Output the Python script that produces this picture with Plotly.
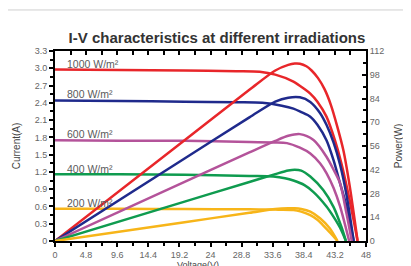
import plotly.graph_objects as go

# ---- data ----
x_ticks = [0, 4.8, 9.6, 14.4, 19.2, 24, 28.8, 33.6, 38.4, 43.2, 48]
x_ticklabels = ["0", "4.8", "9.6", "14.4", "19.2", "24", "28.8", "33.6", "38.4", "43.2", "48"]
y_ticks = [0, 0.3, 0.6, 0.9, 1.2, 1.5, 1.8, 2.1, 2.4, 2.7, 3.0, 3.3]
y_ticklabels = ["0", "0.3", "0.6", "0.9", "1.2", "1.5", "1.8", "2.1", "2.4", "2.7", "3.0", "3.3"]
p_ticks = [0, 14, 28, 42, 56, 70, 84, 98, 112]

labels = ["1000 W/m²", "800 W/m²", "600 W/m²", "400 W/m²", "200 W/m²"]
label_y = [3.07, 2.55, 1.85, 1.25, 0.665]

# I-V curves
iv_v_1000 = [0, 10, 20, 28, 31.6, 34, 36.8, 38.5, 39.4, 40.5, 41.9, 43.2, 44.2, 45.4, 46.7]
iv_i_1000 = [2.98, 2.97, 2.96, 2.95, 2.94, 2.89, 2.77, 2.64, 2.56, 2.42, 2.16, 1.75, 1.35, 0.75, 0]
iv_v_800 = [0, 10, 20, 28, 32, 35, 36.8, 38, 39.4, 40.5, 41.9, 43, 44, 45, 46.1]
iv_i_800 = [2.44, 2.43, 2.42, 2.41, 2.40, 2.35, 2.30, 2.24, 2.16, 2.02, 1.75, 1.40, 1.0, 0.6, 0]
iv_v_600 = [0, 10, 20, 30, 33.7, 35.8, 37.8, 39.4, 40.9, 41.9, 43, 44, 45.4]
iv_i_600 = [1.75, 1.74, 1.74, 1.72, 1.71, 1.70, 1.62, 1.52, 1.35, 1.18, 0.92, 0.6, 0]
iv_v_400 = [0, 10, 20, 30, 33.7, 35.5, 36.8, 38.5, 39.9, 41.9, 43, 44, 44.9]
iv_i_400 = [1.16, 1.16, 1.15, 1.13, 1.12, 1.09, 1.05, 0.97, 0.85, 0.6, 0.42, 0.23, 0]
iv_v_200 = [0, 10, 20, 30, 34, 36.8, 38, 39.4, 40.5, 41.3, 42.5, 43.6]
iv_i_200 = [0.56, 0.56, 0.555, 0.55, 0.545, 0.54, 0.51, 0.45, 0.37, 0.28, 0.14, 0]

# P-V curves
pv_v_1000 = [0, 20, 30, 34, 36, 37, 37.8, 38.8, 39.6, 40.6, 41.6, 42.6, 43.6, 44.5, 45.5, 46.7]
pv_p_1000 = [0, 59.4, 89.1, 100.5, 103.8, 104.6, 104.5, 103, 100.5, 96, 89.5, 80, 67, 53.6, 32, 0]
pv_v_800 = [0, 20, 30, 34, 36, 37.8, 39.4, 40.9, 41.9, 43, 44, 45, 46.1]
pv_p_800 = [0, 48.6, 72.9, 82.2, 84.5, 84.7, 82, 75.5, 68.5, 58, 45, 27, 0]
pv_v_600 = [0, 20, 30, 34, 36, 37.8, 39.9, 41.9, 43, 44, 45, 45.8]
pv_p_600 = [0, 34.8, 52.2, 59, 62, 63, 59.5, 49.7, 42, 34, 16, 0]
pv_v_400 = [0, 20, 30, 34, 36, 37, 38, 39.4, 41.4, 43, 44.2, 44.9]
pv_p_400 = [0, 23.2, 34.8, 39.4, 41.5, 42, 41.5, 38, 30, 20, 8.4, 0]
pv_v_200 = [0, 20, 30, 34, 36, 37, 38, 39.4, 40.9, 42.4, 43.6]
pv_p_200 = [0, 11.1, 16.6, 18.8, 19.3, 19.3, 18.9, 17.3, 13.4, 7.5, 0]

colors = ["#e8262a", "#1f2a8c", "#b4539a", "#0f9b4f", "#f7b519"]

iv_sets = [(iv_v_1000, iv_i_1000), (iv_v_800, iv_i_800), (iv_v_600, iv_i_600),
           (iv_v_400, iv_i_400), (iv_v_200, iv_i_200)]
pv_sets = [(pv_v_1000, pv_p_1000), (pv_v_800, pv_p_800), (pv_v_600, pv_p_600),
           (pv_v_400, pv_p_400), (pv_v_200, pv_p_200)]

fig = go.Figure()
for (v, i), c in zip(iv_sets, colors):
    fig.add_trace(go.Scatter(x=v, y=i, mode="lines",
                             line=dict(color=c, width=2.5, shape="spline", smoothing=0.8),
                             showlegend=False, hoverinfo="skip"))
for (v, p), c in zip(pv_sets, colors):
    fig.add_trace(go.Scatter(x=v, y=p, mode="lines", yaxis="y2",
                             line=dict(color=c, width=2.5, shape="spline", smoothing=0.8),
                             showlegend=False, hoverinfo="skip"))
# helper trace for the top axis
fig.add_trace(go.Scatter(x=[0], y=[0], xaxis="x2", mode="markers",
                         marker=dict(opacity=0), showlegend=False, hoverinfo="skip"))

for t, yy in zip(labels, label_y):
    fig.add_annotation(x=1.6, y=yy, text=t, showarrow=False, xanchor="left",
                       yanchor="middle", font=dict(size=10.5, color="#5a5a5a"))

tickfont = dict(size=9, color="#666")
# the page body has an 8px margin, so the figure is laid out 8px up/left
fig.update_layout(
    width=411, height=266,
    margin=dict(l=47, r=53, t=43, b=33),
    paper_bgcolor="white", plot_bgcolor="white",
    font=dict(family="Liberation Sans, Arial, sans-serif"),
    title=dict(text="<b>I-V characteristics at different irradiations</b>",
               x=0.5085, xanchor="center", y=0.887, yanchor="middle",
               font=dict(size=15, color="#333")),
    xaxis=dict(range=[0, 48], tickvals=x_ticks, ticktext=x_ticklabels,
               showline=True, linecolor="black", linewidth=2, showgrid=False,
               zeroline=False, ticks="outside", ticklen=4, tickwidth=1.5,
               tickcolor="black", tickfont=tickfont, automargin=False,
               minor=dict(tickmode="linear", tick0=0, dtick=2.4, ticks="outside",
                          ticklen=3, tickcolor="black")),
    xaxis2=dict(range=[0, 48], overlaying="x", side="top", showline=True,
                linecolor="black", linewidth=2, showgrid=False, zeroline=False,
                tickmode="linear", tick0=0, dtick=2.4, ticks="inside", ticklen=4,
                tickwidth=1.5, tickcolor="black", showticklabels=False, automargin=False),
    yaxis=dict(range=[0, 3.3], tickvals=y_ticks, ticktext=y_ticklabels,
               showline=True, linecolor="black", linewidth=2, showgrid=False,
               zeroline=False, ticks="outside", ticklen=4, tickwidth=1.5,
               tickcolor="black", tickfont=tickfont, automargin=False,
               title=dict(text="Current(A)", font=dict(size=10, color="#444"), standoff=12),
               minor=dict(tickmode="linear", tick0=0, dtick=0.15, ticks="outside",
                          ticklen=3, tickcolor="black")),
    yaxis2=dict(range=[0, 112], tickvals=p_ticks, overlaying="y", side="right",
                showline=True, linecolor="black", linewidth=2, showgrid=False,
                zeroline=False, ticks="inside", ticklen=4, tickwidth=1.5,
                tickcolor="black", tickfont=tickfont, automargin=False,
                title=dict(text="Power(W)", font=dict(size=10, color="#444"), standoff=12),
                minor=dict(tickmode="linear", tick0=0, dtick=7, ticks="inside",
                           ticklen=3, tickcolor="black")),
)

fig.add_annotation(xref="paper", yref="paper", x=0.46, y=-0.124, text="Voltage(V)",
                   showarrow=False, xanchor="center", yanchor="middle",
                   font=dict(size=9, color="#444"))

fig.add_shape(type="rect", xref="paper", yref="paper",
              x0=-0.161, x1=1.13, y0=-0.25, y1=1.216,
              line=dict(color="#cfcfcf", width=1), layer="below")

fig.write_html("out.html")
